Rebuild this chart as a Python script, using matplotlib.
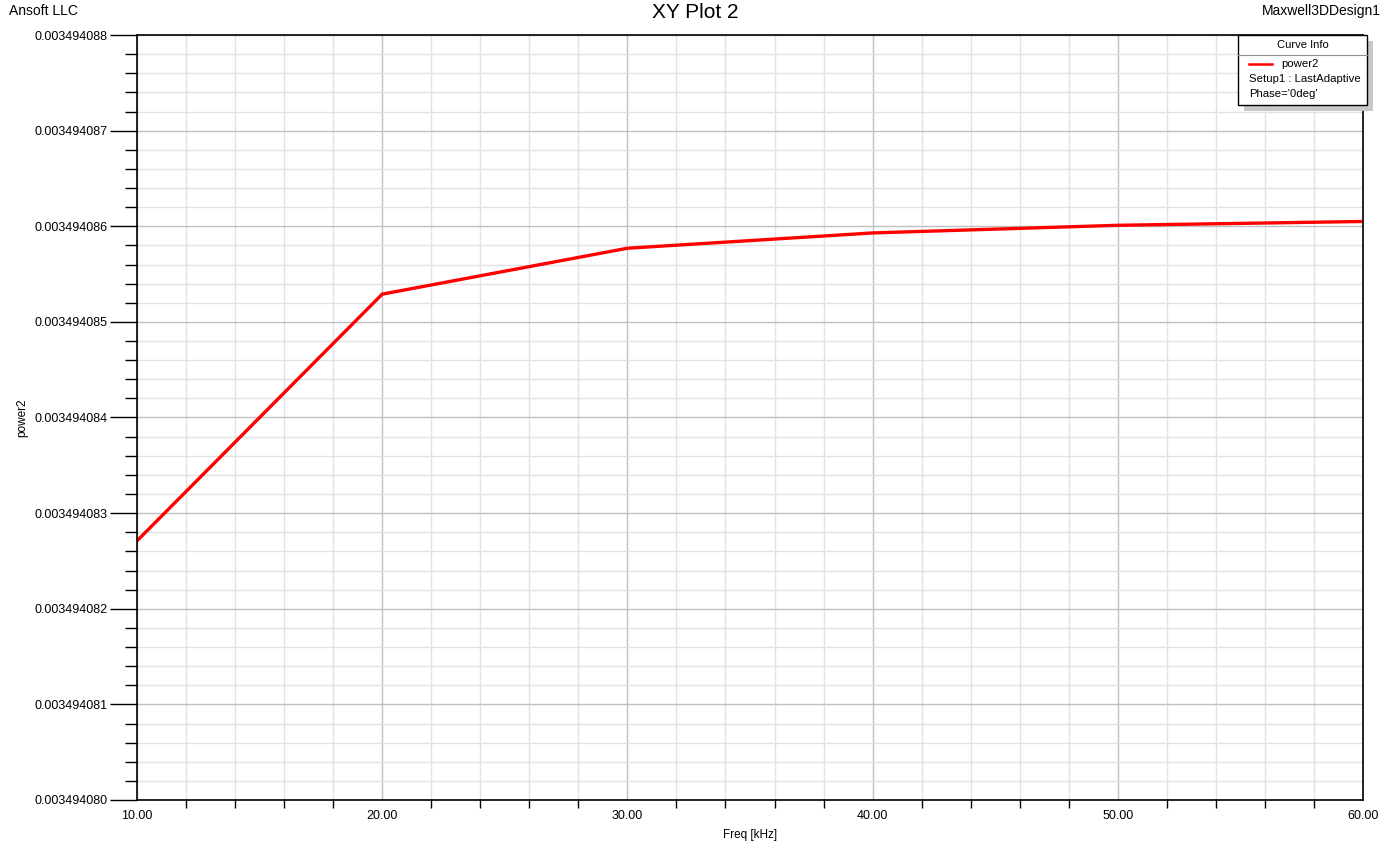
import numpy as np
import matplotlib
matplotlib.use("Agg")
import matplotlib.pyplot as plt
from matplotlib.ticker import FormatStrFormatter
from matplotlib.patches import Rectangle
from matplotlib.lines import Line2D

plt.rcParams['font.family'] = ['Liberation Sans', 'DejaVu Sans']

# données
freq_khz = [10, 20, 30, 40, 50, 60]
power2 = [0.00349408271, 0.00349408529, 0.00349408577,
          0.00349408593, 0.00349408601, 0.00349408605]
x_ticks = [10, 20, 30, 40, 50, 60]
y_ticks = [0.003494080, 0.003494081, 0.003494082, 0.003494083, 0.003494084,
           0.003494085, 0.003494086, 0.003494087, 0.003494088]
legende = ["power2", "Setup1 : LastAdaptive", "Phase='0deg'"]

fig = plt.figure(figsize=(13.91, 8.49), dpi=100)
ax = fig.add_axes([137 / 1391, 1 - 800 / 849, (1363 - 137) / 1391, (800 - 35) / 849])

ax.plot(freq_khz, power2, color='#ff0000', lw=2.4, solid_joinstyle='miter')

ax.set_xlim(x_ticks[0], x_ticks[-1])
ax.set_ylim(y_ticks[0], y_ticks[-1])
ax.set_xticks(x_ticks)
ax.set_yticks(y_ticks)
# graduations secondaires : 5 par intervalle
ax.set_xticks([a + (b - a) * k / 5 for a, b in zip(x_ticks[:-1], x_ticks[1:]) for k in range(1, 5)],
              minor=True)
ax.set_yticks([a + (b - a) * k / 5 for a, b in zip(y_ticks[:-1], y_ticks[1:]) for k in range(1, 5)],
              minor=True)
ax.xaxis.set_major_formatter(FormatStrFormatter('%.2f'))
ax.yaxis.set_major_formatter(FormatStrFormatter('%.9f'))

ax.grid(which='major', color='#c0c0c0', lw=1.0)
ax.grid(which='minor', color='#e2e2e2', lw=1.0)
ax.set_axisbelow(True)

ax.tick_params(axis='y', which='major', length=19.5, width=1.0, pad=2, labelsize=9)
ax.tick_params(axis='y', which='minor', length=8.5, width=1.0)
ax.tick_params(axis='x', which='major', length=0, pad=7, labelsize=9)
ax.tick_params(axis='x', which='minor', length=6, width=1.0)
for s in ax.spines.values():
    s.set_color('black')
    s.set_linewidth(1.2)

ax.set_xlabel('Freq [kHz]', fontsize=8.5, labelpad=5)
ax.set_ylabel('power2', fontsize=8.5, labelpad=4)

fig.text(0.5, 1 - 13 / 849, 'XY Plot 2', ha='center', va='center', fontsize=15)
fig.text(9 / 1391, 1 - 11 / 849, 'Ansoft LLC', ha='left', va='center', fontsize=10)
fig.text(1381 / 1391, 1 - 11 / 849, 'Maxwell3DDesign1', ha='right', va='center', fontsize=10)

# boîte "Curve Info"
W, H = 1391, 849
def fx(x):
    return x / W
def fy(y):
    return 1 - y / H

x0, x1, y0, y1 = 1238, 1367, 35, 105
fig.add_artist(Rectangle((fx(x0 + 6), fy(y1 + 6)), fx(x1 - x0), (y1 - y0) / H,
                         facecolor='#c8c8c8', edgecolor='none', transform=fig.transFigure))
fig.add_artist(Rectangle((fx(x0), fy(y1)), fx(x1 - x0), (y1 - y0) / H,
                         facecolor='white', edgecolor='black', lw=1.0, transform=fig.transFigure))
fig.add_artist(Line2D([fx(x0), fx(x1)], [fy(55), fy(55)], color='#909090', lw=0.8))
fig.text(fx((x0 + x1) / 2), fy(45), 'Curve Info', ha='center', va='center', fontsize=8)
fig.add_artist(Line2D([fx(1249), fx(1272)], [fy(64), fy(64)], color='#ff0000', lw=1.8))
fig.text(fx(1281), fy(64), legende[0], ha='left', va='center', fontsize=8.2)
fig.text(fx(1249), fy(79), legende[1], ha='left', va='center', fontsize=8.2)
fig.text(fx(1249), fy(94), legende[2], ha='left', va='center', fontsize=8.2)

fig.savefig('out.png', dpi=100)
